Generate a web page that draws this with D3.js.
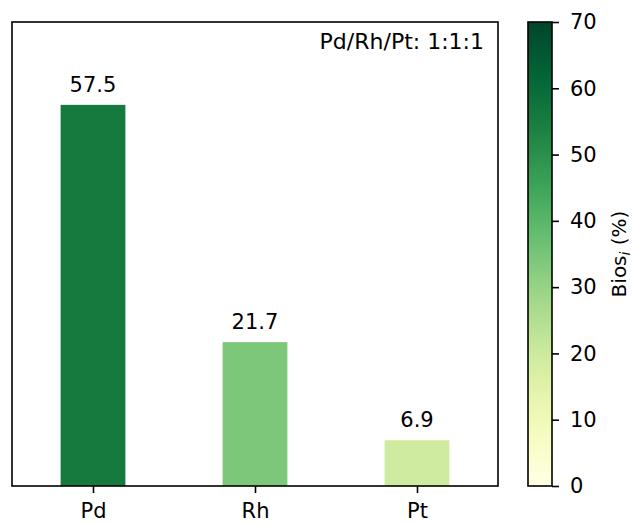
<!DOCTYPE html>
<html><head><meta charset="utf-8">
<script src="https://cdn.jsdelivr.net/npm/d3@7"></script>
<style>body{margin:0;background:#fff}svg{display:block}text{font-family:"DejaVu Sans",sans-serif;fill:#000}</style>
</head><body>
<svg id="c" width="632" height="524"></svg>
<script>
const categories = ["Pd", "Rh", "Pt"];
const values = [57.5, 21.7, 6.9];
const valueLabels = ["57.5", "21.7", "6.9"];
const cbTicks = [0, 10, 20, 30, 40, 50, 60, 70];
const annotation = "Pd/Rh/Pt: 1:1:1";
const cbLabel = "Bios";
const cbLabelSub = "i";

const svg = d3.select("#c");
const fs = 20;
const plot = {l: 12, r: 498, t: 22, b: 486};
const cb = {l: 528, r: 552};

const x = d3.scaleLinear().domain([-0.5, 2.5]).range([plot.l, plot.r]);
const y = d3.scaleLinear().domain([0, 70]).range([plot.b, plot.t]);
const barColor = d3.scaleSequentialSqrt(t => d3.interpolateYlGn(0.88 * t)).domain([0, 70]);
const barW = 0.4;

const g = svg.append("g");
g.selectAll("rect.bar").data(values).join("rect")
  .attr("x", (d, i) => x(i - barW / 2))
  .attr("width", x(barW) - x(0))
  .attr("y", d => y(d))
  .attr("height", d => y(0) - y(d))
  .attr("fill", d => barColor(d));

g.selectAll("text.val").data(values).join("text")
  .attr("x", (d, i) => x(i))
  .attr("y", d => y(d) - 13)
  .attr("text-anchor", "middle")
  .style("font-size", "21px")
  .text((d, i) => valueLabels[i]);

// frame
g.append("rect").attr("x", plot.l).attr("y", plot.t)
  .attr("width", plot.r - plot.l).attr("height", plot.b - plot.t)
  .attr("fill", "none").attr("stroke", "#000").attr("stroke-width", 1.6);

// x axis
const xAxis = d3.axisBottom(x).tickValues([0, 1, 2]).tickFormat(i => categories[i])
  .tickSizeInner(7).tickSizeOuter(0).tickPadding(10);
const xa = svg.append("g").attr("transform", `translate(0,${plot.b})`).call(xAxis);
xa.select(".domain").remove();
xa.selectAll("line").attr("stroke-width", 1.6);
xa.selectAll("text").style("font-size", "21px").attr("font-family", null);

// annotation
svg.append("text").attr("x", 484).attr("y", 49).attr("text-anchor", "end")
  .style("font-size", "22px").text(annotation);

// colorbar
const defs = svg.append("defs");
const grad = defs.append("linearGradient").attr("id", "cbg")
  .attr("x1", 0).attr("y1", 1).attr("x2", 0).attr("y2", 0);
d3.range(0, 1.0001, 0.05).forEach(t => {
  grad.append("stop").attr("offset", t).attr("stop-color", d3.interpolateYlGn(t));
});
svg.append("rect").attr("x", cb.l).attr("y", plot.t).attr("width", cb.r - cb.l)
  .attr("height", plot.b - plot.t).attr("fill", "url(#cbg)")
  .attr("stroke", "#000").attr("stroke-width", 1.6);
const cbAxis = d3.axisRight(y).tickValues(cbTicks).tickSizeInner(7).tickSizeOuter(0).tickPadding(11);
const ca = svg.append("g").attr("transform", `translate(${cb.r},0)`).call(cbAxis);
ca.select(".domain").remove();
ca.selectAll("line").attr("stroke-width", 1.6);
ca.selectAll("text").style("font-size", "21px").attr("font-family", null);

const lab = svg.append("text")
  .attr("transform", `translate(626,${(plot.t + plot.b) / 2}) rotate(-90)`)
  .attr("text-anchor", "middle").style("font-size", "20px");
lab.append("tspan").text(cbLabel);
lab.append("tspan").attr("dy", 4).style("font-size", "14px").style("font-style", "italic").text(cbLabelSub);
lab.append("tspan").attr("dy", -4).text(" (%)");
</script>
</body></html>
